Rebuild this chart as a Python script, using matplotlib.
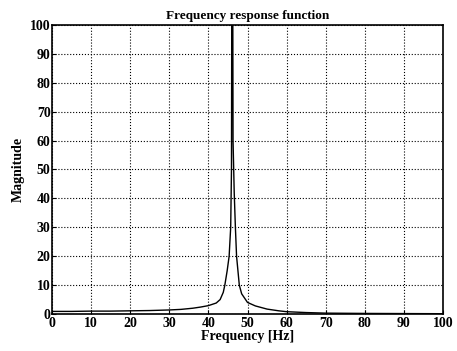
import matplotlib
matplotlib.use("Agg")
import matplotlib.pyplot as plt

# values
freq = [0, 5, 10, 15, 20, 25, 30, 33, 36, 38, 40, 42, 43, 43.8, 44.2, 44.8,
        45.3, 45.7, 45.9, 46.0, 46.2, 46.3, 46.6, 46.9, 47.2, 47.9, 48.5,
        49.5, 50, 52, 55, 58, 60, 65, 70, 80, 90, 100]
mag = [0.9, 0.9, 1.0, 1.0, 1.1, 1.2, 1.4, 1.6, 2.0, 2.4, 2.9, 3.8, 5.0, 7.5,
       10, 15, 20, 30, 50, 130, 130, 60, 42, 30, 20, 10, 7,
       5, 4, 2.8, 1.7, 1.1, 0.8, 0.5, 0.3, 0.2, 0.15, 0.1]

xticks = list(range(0, 101, 10))
yticks = list(range(0, 101, 10))

plt.rcParams['font.family'] = ['Liberation Serif', 'DejaVu Serif']
plt.rcParams['font.weight'] = 'bold'

fig = plt.figure(figsize=(4.57, 3.51), dpi=100)
ax = fig.add_axes([0.1138, 0.1054, 0.8556, 0.8234])
ax.plot(freq, mag, color='black', linewidth=1.0)
ax.set_xlim(0, 100)
ax.set_ylim(0, 100)
ax.set_xticks(xticks)
ax.set_yticks(yticks)
ax.grid(True, linestyle=':', color='black', linewidth=0.8)
ax.tick_params(direction='in', length=3, labelsize=10, pad=1)
ax.tick_params(axis='x', pad=2.5)
for lab in ax.get_xticklabels() + ax.get_yticklabels():
    lab.set_fontweight('bold')
for s in ax.spines.values():
    s.set_linewidth(1.2)
ax.set_title("Frequency response function", fontsize=9.5, fontweight='bold', pad=4)
ax.set_xlabel("Frequency [Hz]", fontsize=10, fontweight='bold', labelpad=0)
ax.set_ylabel("Magnitude", fontsize=10, fontweight='bold', labelpad=4)

fig.savefig("out.png", dpi=100)
